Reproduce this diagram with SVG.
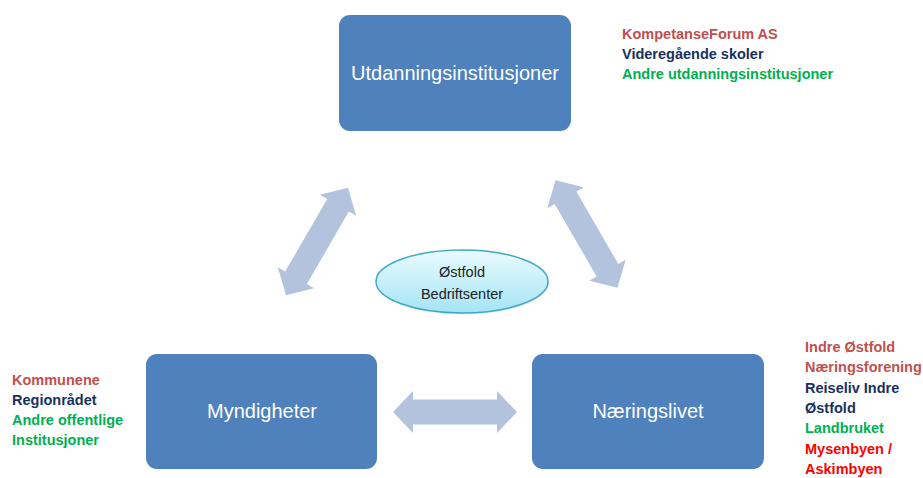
<svg xmlns="http://www.w3.org/2000/svg" width="923" height="478" viewBox="0 0 923 478">
<style>
.box{fill:#4f81bd;}
.bt{font-family:"Liberation Sans",Arial,sans-serif;font-size:20px;fill:#ffffff;text-anchor:middle;}
.lbl{font-family:"Liberation Sans",Arial,sans-serif;font-size:14.5px;font-weight:bold;}
.c1{fill:#c0504d;}
.c2{fill:#17305f;}
.c3{fill:#00b050;}
.c4{fill:#ff0000;}
.arr{fill:#b3c3dd;}
.et{font-family:"Liberation Sans",Arial,sans-serif;font-size:14.5px;fill:#222222;text-anchor:middle;}
</style>
<defs>
<path id="dbl" d="M-62,0 L-42,-21 L-42,-12.5 L42,-12.5 L42,-21 L62,0 L42,21 L42,12.5 L-42,12.5 L-42,21 Z"/>
<linearGradient id="eg" x1="0" y1="0" x2="0" y2="1">
<stop offset="0" stop-color="#e9fbff"/>
<stop offset="1" stop-color="#a5e4f6"/>
</linearGradient>
</defs>
<g id="connectors">
<use href="#dbl" class="arr" transform="translate(317,241.5) rotate(-60)"/>
<use href="#dbl" class="arr" transform="translate(586.5,234) rotate(60)"/>
<use href="#dbl" class="arr" transform="translate(455,412)"/>
</g>
<g id="utdanning">
<rect class="box" x="339" y="15" width="232" height="116" rx="11"/>
<text class="bt" x="455" y="80">Utdanningsinstitusjoner</text>
</g>
<g id="myndigheter">
<rect class="box" x="146" y="354" width="231" height="115" rx="11"/>
<text class="bt" x="262" y="418">Myndigheter</text>
</g>
<g id="naeringslivet">
<rect class="box" x="532" y="354" width="232" height="115" rx="11"/>
<text class="bt" x="648" y="418">Næringslivet</text>
</g>
<g id="bedriftsenter">
<ellipse cx="463" cy="283" rx="86" ry="31.5" fill="#000000" opacity="0.08"/>
<ellipse cx="462" cy="281.5" rx="86" ry="31.5" fill="url(#eg)" stroke="#3fa9c4" stroke-width="1.5"/>
<text class="et" x="462" y="277">Østfold</text>
<text class="et" x="462" y="299">Bedriftsenter</text>
</g>
<g id="labels-utdanning" class="lbl">
<text class="c1" x="622" y="39">KompetanseForum AS</text>
<text class="c2" x="622" y="59">Videregående skoler</text>
<text class="c3" x="622" y="79">Andre utdanningsinstitusjoner</text>
</g>
<g id="labels-myndigheter" class="lbl">
<text class="c1" x="12" y="385">Kommunene</text>
<text class="c2" x="12" y="405">Regionrådet</text>
<text class="c3" x="12" y="425">Andre offentlige</text>
<text class="c3" x="12" y="445">Institusjoner</text>
</g>
<g id="labels-naeringsliv" class="lbl">
<text class="c1" x="805" y="352">Indre Østfold</text>
<text class="c1" x="805" y="372.3">Næringsforening</text>
<text class="c2" x="805" y="392.6">Reiseliv Indre</text>
<text class="c2" x="805" y="413">Østfold</text>
<text class="c3" x="805" y="433.3">Landbruket</text>
<text class="c4" x="805" y="453.6">Mysenbyen /</text>
<text class="c4" x="805" y="473.5">Askimbyen</text>
</g>
</svg>
